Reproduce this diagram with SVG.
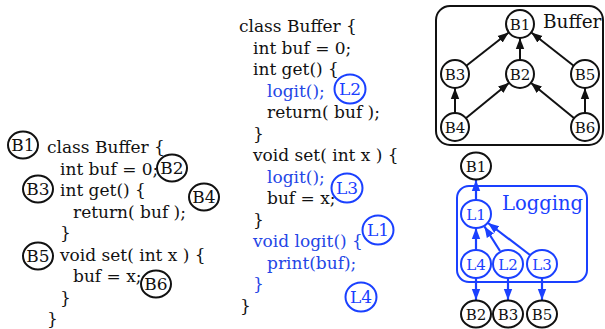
<svg xmlns="http://www.w3.org/2000/svg" width="605" height="329" viewBox="0 0 605 329">
<style>
text{font-family:"DejaVu Serif","Liberation Serif",serif}
.code{font-size:17px;fill:#111}
.blue{fill:#2446e6}
.ann{fill:none;stroke:#111;stroke-width:2}
.annb{fill:none;stroke:#1a40ff;stroke-width:2}
.annt{font-size:17px;text-anchor:middle;fill:#111}
.anntb{font-size:17px;text-anchor:middle;fill:#1a40ff}
.gn{fill:#fff;stroke:#111;stroke-width:2}
.gnb{fill:#fff;stroke:#1a40ff;stroke-width:2}
.gt{font-size:15px;text-anchor:middle;fill:#111}
.gtb{font-size:15px;text-anchor:middle;fill:#1a40ff}
.edge{stroke:#111;stroke-width:2;fill:none;marker-end:url(#ak)}
.edgeb{stroke:#1a40ff;stroke-width:2.2;fill:none;marker-end:url(#ab)}
</style>
<defs>
<marker id="ak" markerUnits="userSpaceOnUse" markerWidth="11" markerHeight="10" viewBox="0 0 11 10" refX="11" refY="5" orient="auto"><path d="M0,0.8 L11,5 L0,9.2 z" fill="#111"/></marker>
<marker id="ab" markerUnits="userSpaceOnUse" markerWidth="11" markerHeight="10" viewBox="0 0 11 10" refX="11" refY="5" orient="auto"><path d="M0,0.8 L11,5 L0,9.2 z" fill="#1a40ff"/></marker>
</defs>

<g id="code-left" class="code">
<text x="47" y="153">class Buffer {</text>
<text x="60" y="174.5">int buf = 0;</text>
<text x="60" y="196">int get() {</text>
<text x="73" y="217.5">return( buf );</text>
<text x="60" y="239">}</text>
<text x="60" y="260.5">void set( int x ) {</text>
<text x="73" y="282">buf = x;</text>
<text x="60" y="303.5">}</text>
<text x="47" y="325">}</text>
</g>
<g id="ann-left-B1"><ellipse class="ann" cx="23" cy="145" rx="15" ry="13.5"/><text class="annt" x="23" y="151">B1</text></g>
<g id="ann-left-B2"><ellipse class="ann" cx="172" cy="168" rx="15" ry="13.5"/><text class="annt" x="172" y="174">B2</text></g>
<g id="ann-left-B3"><ellipse class="ann" cx="38" cy="189" rx="15" ry="13.5"/><text class="annt" x="38" y="195">B3</text></g>
<g id="ann-left-B4"><ellipse class="ann" cx="204" cy="197" rx="15" ry="13.5"/><text class="annt" x="204" y="203">B4</text></g>
<g id="ann-left-B5"><ellipse class="ann" cx="38" cy="256" rx="15" ry="13.5"/><text class="annt" x="38" y="262">B5</text></g>
<g id="ann-left-B6"><ellipse class="ann" cx="156" cy="284" rx="15" ry="13.5"/><text class="annt" x="156" y="290">B6</text></g>

<g id="code-mid" class="code">
<text x="239" y="32">class Buffer {</text>
<text x="253" y="53.5">int buf = 0;</text>
<text x="253" y="75">int get() {</text>
<text x="267" y="96.5" class="blue">logit();</text>
<text x="267" y="118">return( buf );</text>
<text x="253" y="139.5">}</text>
<text x="253" y="161">void set( int x ) {</text>
<text x="267" y="182.5" class="blue">logit();</text>
<text x="267" y="204">buf = x;</text>
<text x="253" y="225.5">}</text>
<text x="253" y="247" class="blue">void logit() {</text>
<text x="267" y="268.5" class="blue">print(buf);</text>
<text x="253" y="290" class="blue">}</text>
<text x="240" y="311.5">}</text>
</g>
<g id="ann-mid-L2"><ellipse class="annb" cx="350" cy="89" rx="15.5" ry="14.5"/><text class="anntb" x="350" y="95">L2</text></g>
<g id="ann-mid-L3"><ellipse class="annb" cx="347" cy="188" rx="15.5" ry="14.5"/><text class="anntb" x="347" y="194">L3</text></g>
<g id="ann-mid-L1"><ellipse class="annb" cx="378" cy="230" rx="15.5" ry="14.5"/><text class="anntb" x="378" y="236">L1</text></g>
<g id="ann-mid-L4"><ellipse class="annb" cx="361" cy="297" rx="15.5" ry="14.5"/><text class="anntb" x="361" y="303">L4</text></g>

<g id="panel-buffer">
<rect x="436" y="6" width="167" height="139" rx="14" fill="none" stroke="#111" stroke-width="2"/>
<text x="543" y="28" font-size="18.5" fill="#111">Buffer</text>
</g>
<g id="panel-logging">
<rect x="457" y="186" width="130" height="96" rx="12" fill="none" stroke="#1a40ff" stroke-width="2"/>
<text x="502" y="210" font-size="19.5" fill="#1a40ff">Logging</text>
</g>

<g id="connectors">
<line class="edge" x1="466.3" y1="65.7" x2="508.7" y2="32.5"/>
<line class="edge" x1="520" y1="60" x2="520" y2="38"/>
<line class="edge" x1="573.7" y1="65.8" x2="531.3" y2="32.5"/>
<line class="edge" x1="455" y1="113" x2="455" y2="88"/>
<line class="edge" x1="465.8" y1="118.2" x2="509.2" y2="82.8"/>
<line class="edge" x1="574.2" y1="118.2" x2="530.8" y2="82.8"/>
<line class="edge" x1="585" y1="113" x2="585" y2="88"/>
<line class="edgeb" x1="476" y1="200" x2="476" y2="180"/>
<line class="edgeb" x1="476" y1="250" x2="476" y2="228"/>
<line class="edgeb" x1="500" y1="251" x2="484.5" y2="226.5"/>
<line class="edgeb" x1="530" y1="255" x2="488" y2="223"/>
<line class="edgeb" x1="476" y1="278" x2="476" y2="300"/>
<line class="edgeb" x1="508" y1="278" x2="508" y2="300"/>
<line class="edgeb" x1="542" y1="278" x2="542" y2="300"/>
</g>

<g id="g1-B1"><circle class="gn" cx="520" cy="24" r="14"/><text class="gt" x="520" y="29.5">B1</text></g>
<g id="g1-B3"><circle class="gn" cx="455" cy="74" r="14"/><text class="gt" x="455" y="79.5">B3</text></g>
<g id="g1-B2"><circle class="gn" cx="520" cy="74" r="14"/><text class="gt" x="520" y="79.5">B2</text></g>
<g id="g1-B5"><circle class="gn" cx="585" cy="74" r="14"/><text class="gt" x="585" y="79.5">B5</text></g>
<g id="g1-B4"><circle class="gn" cx="455" cy="127" r="14"/><text class="gt" x="455" y="132.5">B4</text></g>
<g id="g1-B6"><circle class="gn" cx="585" cy="127" r="14"/><text class="gt" x="585" y="132.5">B6</text></g>

<g id="g2-B1"><ellipse class="gn" cx="476" cy="166" rx="15" ry="13.5"/><text class="gt" x="476" y="171.5">B1</text></g>
<g id="g2-L1"><ellipse class="gnb" cx="476" cy="214" rx="15" ry="14"/><text class="gtb" x="476" y="219.5">L1</text></g>
<g id="g2-L4"><ellipse class="gnb" cx="476" cy="264" rx="15" ry="14"/><text class="gtb" x="476" y="269.5">L4</text></g>
<g id="g2-L2"><ellipse class="gnb" cx="508" cy="264" rx="15" ry="14"/><text class="gtb" x="508" y="269.5">L2</text></g>
<g id="g2-L3"><ellipse class="gnb" cx="542" cy="264" rx="15" ry="14"/><text class="gtb" x="542" y="269.5">L3</text></g>
<g id="g2-B2"><ellipse class="gn" cx="476" cy="314" rx="15" ry="13.5"/><text class="gt" x="476" y="319.5">B2</text></g>
<g id="g2-B3"><ellipse class="gn" cx="508" cy="314" rx="15" ry="13.5"/><text class="gt" x="508" y="319.5">B3</text></g>
<g id="g2-B5"><ellipse class="gn" cx="542" cy="314" rx="15" ry="13.5"/><text class="gt" x="542" y="319.5">B5</text></g>
</svg>
